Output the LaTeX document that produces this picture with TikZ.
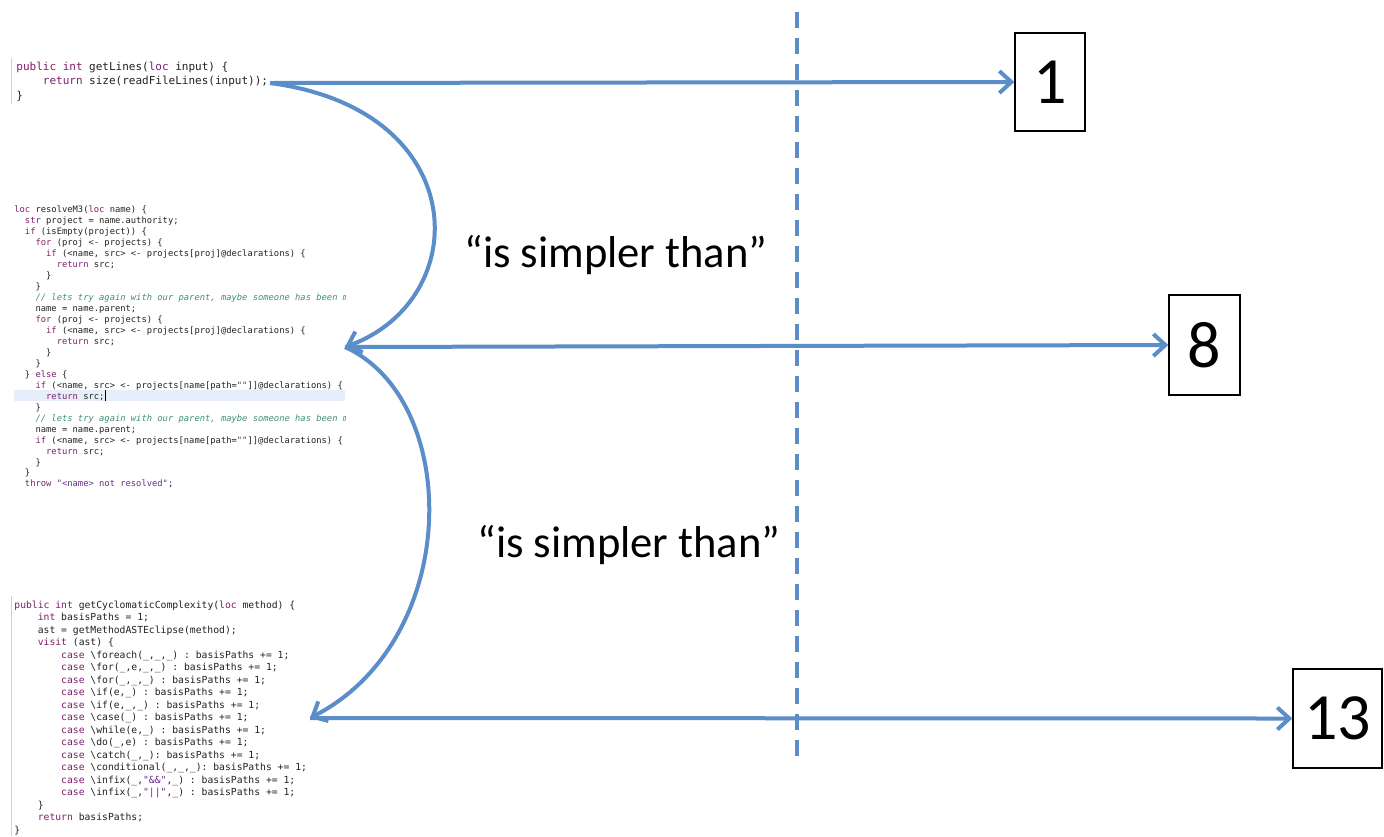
\documentclass[tikz,border=0pt]{standalone}
\usepackage{fontspec}
\setmainfont{Carlito}
\setmonofont{DejaVu Sans Mono}
\usetikzlibrary{arrows.meta}
\definecolor{arrowblue}{HTML}{5B8DC8}
\definecolor{kwc}{HTML}{7F1F6A}
\definecolor{cmc}{HTML}{3F8F7A}
\definecolor{stc}{HTML}{6A2A8A}
\definecolor{codec}{HTML}{222222}
\definecolor{hilite}{HTML}{E6EEF9}
\newcommand\kwd[1]{\textcolor{kwc}{#1}}
\newcommand\cmt[1]{\textcolor{cmc}{\itshape #1}}
\newcommand\strg[1]{\textcolor{stc}{#1}}
\newcommand\bsl{\textbackslash}
\tikzset{
  arr/.style={draw=arrowblue, line width=2pt, -{Straight Barb[length=6pt,width=11pt]}},
  codeblock/.style={anchor=north west, inner sep=0pt, align=left, text=codec},
  numbox/.style={draw=black, line width=0.7pt, font=\fontsize{33}{38}\selectfont, inner sep=0pt},
  relabel/.style={font=\fontsize{22.3}{26}\selectfont},
  edge/.style={draw=black!18, line width=0.4pt}
}
\begin{document}
\begin{tikzpicture}[x=0.5pt, y=-0.5pt]
\useasboundingbox (0,0) rectangle (1384,836);
\fill[white] (0,0) rectangle (1384,836);

% faint editor borders
\draw[edge] (11,58) -- (11,104);
\draw[edge] (11,596) -- (11,836);

% top code
\node[codeblock, font=\ttfamily\frenchspacing\fontsize{5.5}{7.25}\selectfont] (c1) at (16,61.5) {%
\kwd{public} \kwd{int} getLines(\kwd{loc} input) \{\\
~~~~\kwd{return} size(readFileLines(input));\\
\}};

% middle code (clipped)
\begin{scope}
\clip (0,190) rectangle (345,495);
\fill[hilite] (14,389.5) rectangle (345,401);
\draw[black, line width=0.4pt] (105,390) -- (105,401);
\node[codeblock, font=\ttfamily\frenchspacing\fontsize{4.4}{5.48}\selectfont] (c2) at (14,205.8) {%
\kwd{loc} resolveM3(\kwd{loc} name) \{\\
~~\kwd{str} project = name.authority;\\
~~\kwd{if} (isEmpty(project)) \{\\
~~~~\kwd{for} (proj <- projects) \{\\
~~~~~~\kwd{if} (<name, src> <- projects[proj]@declarations) \{\\
~~~~~~~~\kwd{return} src;\\
~~~~~~\}\\
~~~~\}\\
~~~~\cmt{// lets try again with our parent, maybe someone has been me}\\
~~~~name = name.parent;\\
~~~~\kwd{for} (proj <- projects) \{\\
~~~~~~\kwd{if} (<name, src> <- projects[proj]@declarations) \{\\
~~~~~~~~\kwd{return} src;\\
~~~~~~\}\\
~~~~\}\\
~~\} \kwd{else} \{\\
~~~~\kwd{if} (<name, src> <- projects[name[path=\strg{""}]]@declarations) \{\\
~~~~~~\kwd{return} src;\\
~~~~\}\\
~~~~\cmt{// lets try again with our parent, maybe someone has been me}\\
~~~~name = name.parent;\\
~~~~\kwd{if} (<name, src> <- projects[name[path=\strg{""}]]@declarations) \{\\
~~~~~~\kwd{return} src;\\
~~~~\}\\
~~\}\\
~~\kwd{throw} \strg{"<name> not resolved"};};
\end{scope}

% bottom code
\node[codeblock, font=\ttfamily\frenchspacing\fontsize{4.86}{6.25}\selectfont] (c3) at (14,600.6) {%
\kwd{public} \kwd{int} getCyclomaticComplexity(\kwd{loc} method) \{\\
~~~~\kwd{int} basisPaths = 1;\\
~~~~ast = getMethodASTEclipse(method);\\
~~~~\kwd{visit} (ast) \{\\
~~~~~~~~\kwd{case} \bsl foreach(\_,\_,\_) : basisPaths += 1;\\
~~~~~~~~\kwd{case} \bsl for(\_,e,\_,\_) : basisPaths += 1;\\
~~~~~~~~\kwd{case} \bsl for(\_,\_,\_) : basisPaths += 1;\\
~~~~~~~~\kwd{case} \bsl if(e,\_) : basisPaths += 1;\\
~~~~~~~~\kwd{case} \bsl if(e,\_,\_) : basisPaths += 1;\\
~~~~~~~~\kwd{case} \bsl case(\_) : basisPaths += 1;\\
~~~~~~~~\kwd{case} \bsl while(e,\_) : basisPaths += 1;\\
~~~~~~~~\kwd{case} \bsl do(\_,e) : basisPaths += 1;\\
~~~~~~~~\kwd{case} \bsl catch(\_,\_): basisPaths += 1;\\
~~~~~~~~\kwd{case} \bsl conditional(\_,\_,\_): basisPaths += 1;\\
~~~~~~~~\kwd{case} \bsl infix(\_,\strg{"\&\&"},\_) : basisPaths += 1;\\
~~~~~~~~\kwd{case} \bsl infix(\_,\strg{"||"},\_) : basisPaths += 1;\\
~~~~\}\\
~~~~\kwd{return} basisPaths;\\
\}};

% number boxes
\node[numbox, minimum width=35pt, minimum height=49pt] (b1) at (1050,82) {1};
\node[numbox, minimum width=35.5pt, minimum height=50pt] (b8) at (1204.5,345) {8};
\node[numbox, minimum width=44.5pt, minimum height=49.5pt] (b13) at (1337.5,718.5) {13};

% relation labels
\node[relabel] (r1) at (616,255) {“is simpler than”};
\node[relabel] (r2) at (629,545) {“is simpler than”};

% dashed divider
\coordinate (dtop) at (797,12);
\coordinate (dbot) at (797,760);
\draw[draw=arrowblue, line width=2pt, dash pattern=on 8pt off 5pt] (dtop) -- (dbot);

% connector points
\coordinate (p1) at (270,83);
\coordinate (p2) at (345,347);
\coordinate (p3) at (310,718);

\draw[arr] (p1) -- (b1.west);
\draw[arr] (p1) .. controls (474,110) and (474,300) .. (p2);
\draw[arr] (p2) -- (b8.west);
\draw[arr] (p2) .. controls (462,400) and (462,640) .. (p3);
\draw[arr] (p3) -- (b13.west);
\end{tikzpicture}
\end{document}
